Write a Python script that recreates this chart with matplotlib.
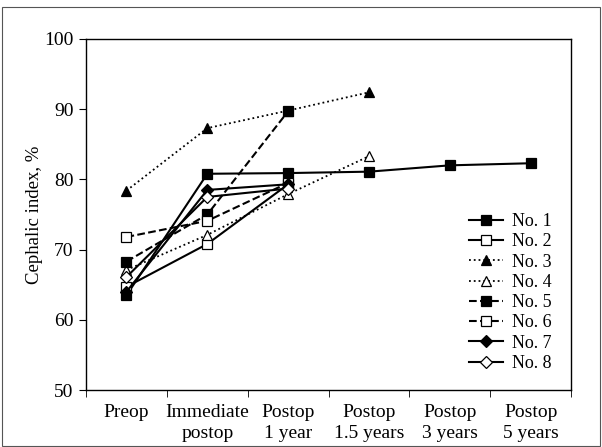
import matplotlib
matplotlib.use('Agg')
import matplotlib.pyplot as plt
import numpy as np
from matplotlib.patches import Rectangle

plt.rcParams['font.family'] = ['Liberation Serif', 'DejaVu Serif']

# === Data ===
categories = ["Preop", "Immediate\npostop", "Postop\n1 year", "Postop\n1.5 years",
              "Postop\n3 years", "Postop\n5 years"]
no1 = [63.5, 80.8, 80.9, 81.1, 82.0, 82.3]
no2 = [64.7, 70.8, 79.3]
no3 = [78.4, 87.3, 89.8, 92.4]
no4 = [67.1, 72.1, 77.9, 83.3]
no5 = [68.3, 75.0, 89.7]
no6 = [71.8, 74.1, 79.5]
no7 = [64.0, 78.5, 79.3]
no8 = [66.1, 77.5, 78.7]

series = [
    ("No. 1", no1, '-', 's', 'black'),
    ("No. 2", no2, '-', 's', 'white'),
    ("No. 3", no3, ':', '^', 'black'),
    ("No. 4", no4, ':', '^', 'white'),
    ("No. 5", no5, '--', 's', 'black'),
    ("No. 6", no6, '--', 's', 'white'),
    ("No. 7", no7, '-', 'D', 'black'),
    ("No. 8", no8, '-', 'D', 'white'),
]

fig = plt.figure(figsize=(6.02, 4.47), dpi=100)
ax = fig.add_axes([0.143, 0.1275, 0.8055, 0.7853])

for label, vals, ls, mk, fc in series:
    x = np.arange(len(vals))
    lw = 1.3 if ls == ':' else 1.5
    ax.plot(x, vals, linestyle=ls, color='black', linewidth=lw, marker=mk,
            markersize=7 if mk != 'D' else 6.5, markerfacecolor=fc,
            markeredgecolor='black', markeredgewidth=0.9, label=label)

ax.set_xlim(-0.5, 5.5)
ax.set_ylim(50, 100)
ax.set_yticks([50, 60, 70, 80, 90, 100])
ax.set_xticks(np.arange(len(categories)))
ax.set_xticklabels(categories, fontsize=14, linespacing=1.3)
ax.set_xticks(np.arange(-0.5, 6.0, 1.0), minor=True)
ax.tick_params(axis='x', which='major', length=0, pad=10)
ax.tick_params(axis='x', which='minor', length=5, direction='out')
ax.tick_params(axis='y', labelsize=14, length=5, direction='out', pad=4)
ax.set_ylabel("Cephalic index, %", fontsize=13.5, labelpad=1)
for sp in ax.spines.values():
    sp.set_linewidth(1.0)

ax.legend(loc='lower right', bbox_to_anchor=(0.975, 0.031), frameon=False,
          fontsize=13, handlelength=1.85, labelspacing=0.18, handletextpad=0.5,
          borderaxespad=0.0)

fig.patches.append(Rectangle((0.003, 0.002), 0.994, 0.983, transform=fig.transFigure,
                             fill=False, edgecolor='#555555', linewidth=0.8))

fig.savefig("out.png", dpi=100)
